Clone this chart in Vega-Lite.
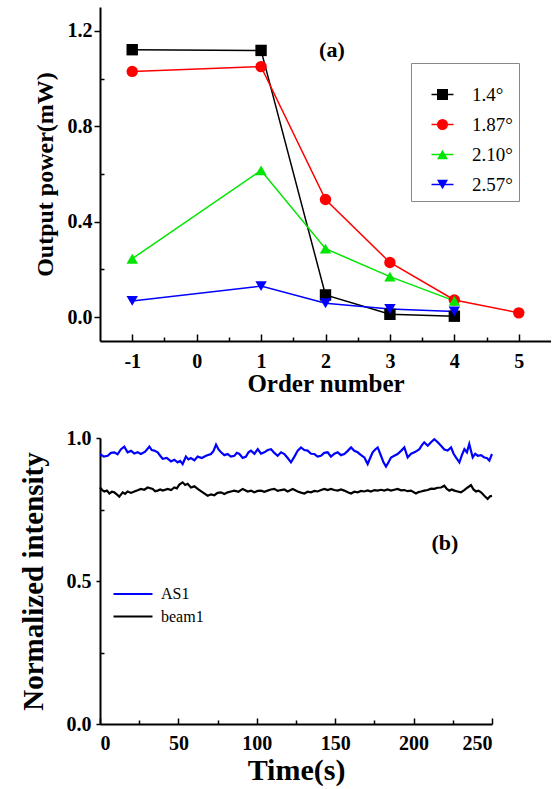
{
  "$schema": "https://vega.github.io/schema/vega-lite/v6.json",
  "padding": {"left": 18, "top": 7, "right": 0, "bottom": 5},
  "background": "white",
  "spacing": 97,
  "bounds": "flush",
  "config": {
    "view": {"stroke": null},
    "font": "Liberation Serif",
    "axis": {
      "grid": false,
      "domainColor": "#000",
      "domainWidth": 2,
      "tickColor": "#000",
      "tickWidth": 1.5,
      "labelFont": "Liberation Serif",
      "labelFontWeight": "bold",
      "labelFontSize": 20,
      "labelColor": "#000",
      "titleFont": "Liberation Serif",
      "titleFontWeight": "bold",
      "titleColor": "#000"
    }
  },
  "datasets": {
    "orders": [
      {"series": "1.4°", "order": -1, "power": 1.121},
      {"series": "1.4°", "order": 1, "power": 1.118},
      {"series": "1.4°", "order": 2, "power": 0.093},
      {"series": "1.4°", "order": 3, "power": 0.012},
      {"series": "1.4°", "order": 4, "power": 0.004},
      {"series": "1.87°", "order": -1, "power": 1.030},
      {"series": "1.87°", "order": 1, "power": 1.050},
      {"series": "1.87°", "order": 2, "power": 0.493},
      {"series": "1.87°", "order": 3, "power": 0.229},
      {"series": "1.87°", "order": 4, "power": 0.072},
      {"series": "1.87°", "order": 5, "power": 0.018},
      {"series": "2.10°", "order": -1, "power": 0.245},
      {"series": "2.10°", "order": 1, "power": 0.615},
      {"series": "2.10°", "order": 2, "power": 0.287},
      {"series": "2.10°", "order": 3, "power": 0.170},
      {"series": "2.10°", "order": 4, "power": 0.068},
      {"series": "2.57°", "order": -1, "power": 0.068},
      {"series": "2.57°", "order": 1, "power": 0.130},
      {"series": "2.57°", "order": 2, "power": 0.058},
      {"series": "2.57°", "order": 3, "power": 0.034},
      {"series": "2.57°", "order": 4, "power": 0.024}
    ],
    "labelA": [{"order": 2.1, "power": 1.12, "text": "(a)"}],
    "labelB": [{"time": 220, "intensity": 0.634, "text": "(b)"}],
    "intensity": [
      {"s": "AS1", "t": 0.0, "v": 0.944}, {"s": "AS1", "t": 2.4, "v": 0.935}, {"s": "AS1", "t": 4.9, "v": 0.938}, {"s": "AS1", "t": 7.0, "v": 0.948},
      {"s": "AS1", "t": 9.1, "v": 0.950}, {"s": "AS1", "t": 11.2, "v": 0.943}, {"s": "AS1", "t": 13.4, "v": 0.961}, {"s": "AS1", "t": 15.5, "v": 0.970},
      {"s": "AS1", "t": 17.6, "v": 0.950}, {"s": "AS1", "t": 19.8, "v": 0.955}, {"s": "AS1", "t": 21.9, "v": 0.946}, {"s": "AS1", "t": 24.0, "v": 0.950},
      {"s": "AS1", "t": 26.1, "v": 0.944}, {"s": "AS1", "t": 28.8, "v": 0.952}, {"s": "AS1", "t": 31.5, "v": 0.970}, {"s": "AS1", "t": 33.0, "v": 0.958},
      {"s": "AS1", "t": 34.6, "v": 0.956}, {"s": "AS1", "t": 36.8, "v": 0.950}, {"s": "AS1", "t": 38.4, "v": 0.938}, {"s": "AS1", "t": 40.0, "v": 0.927},
      {"s": "AS1", "t": 42.6, "v": 0.930}, {"s": "AS1", "t": 45.3, "v": 0.918}, {"s": "AS1", "t": 47.4, "v": 0.924}, {"s": "AS1", "t": 49.5, "v": 0.915},
      {"s": "AS1", "t": 51.1, "v": 0.920}, {"s": "AS1", "t": 52.7, "v": 0.909}, {"s": "AS1", "t": 54.8, "v": 0.935}, {"s": "AS1", "t": 56.4, "v": 0.925},
      {"s": "AS1", "t": 58.0, "v": 0.930}, {"s": "AS1", "t": 60.2, "v": 0.922}, {"s": "AS1", "t": 62.3, "v": 0.935}, {"s": "AS1", "t": 65.0, "v": 0.930},
      {"s": "AS1", "t": 67.6, "v": 0.938}, {"s": "AS1", "t": 70.8, "v": 0.944}, {"s": "AS1", "t": 72.4, "v": 0.955}, {"s": "AS1", "t": 74.0, "v": 0.977},
      {"s": "AS1", "t": 75.6, "v": 0.960}, {"s": "AS1", "t": 77.2, "v": 0.950}, {"s": "AS1", "t": 79.3, "v": 0.940}, {"s": "AS1", "t": 81.4, "v": 0.944},
      {"s": "AS1", "t": 83.5, "v": 0.935}, {"s": "AS1", "t": 85.7, "v": 0.938}, {"s": "AS1", "t": 87.3, "v": 0.948}, {"s": "AS1", "t": 88.9, "v": 0.944},
      {"s": "AS1", "t": 91.0, "v": 0.930}, {"s": "AS1", "t": 93.1, "v": 0.935}, {"s": "AS1", "t": 94.7, "v": 0.950}, {"s": "AS1", "t": 96.3, "v": 0.956},
      {"s": "AS1", "t": 98.5, "v": 0.945}, {"s": "AS1", "t": 100.6, "v": 0.961}, {"s": "AS1", "t": 102.7, "v": 0.945}, {"s": "AS1", "t": 104.8, "v": 0.950},
      {"s": "AS1", "t": 107.0, "v": 0.958}, {"s": "AS1", "t": 109.1, "v": 0.961}, {"s": "AS1", "t": 111.2, "v": 0.948}, {"s": "AS1", "t": 113.3, "v": 0.938},
      {"s": "AS1", "t": 115.5, "v": 0.950}, {"s": "AS1", "t": 117.6, "v": 0.944}, {"s": "AS1", "t": 119.7, "v": 0.930}, {"s": "AS1", "t": 121.8, "v": 0.915},
      {"s": "AS1", "t": 124.0, "v": 0.935}, {"s": "AS1", "t": 126.1, "v": 0.956}, {"s": "AS1", "t": 128.2, "v": 0.967}, {"s": "AS1", "t": 130.3, "v": 0.958},
      {"s": "AS1", "t": 132.4, "v": 0.956}, {"s": "AS1", "t": 134.6, "v": 0.945}, {"s": "AS1", "t": 136.7, "v": 0.944}, {"s": "AS1", "t": 138.8, "v": 0.935},
      {"s": "AS1", "t": 140.9, "v": 0.938}, {"s": "AS1", "t": 143.0, "v": 0.948}, {"s": "AS1", "t": 145.2, "v": 0.950}, {"s": "AS1", "t": 147.3, "v": 0.935},
      {"s": "AS1", "t": 149.5, "v": 0.945}, {"s": "AS1", "t": 151.6, "v": 0.950}, {"s": "AS1", "t": 153.7, "v": 0.940}, {"s": "AS1", "t": 155.8, "v": 0.944},
      {"s": "AS1", "t": 158.0, "v": 0.955}, {"s": "AS1", "t": 160.1, "v": 0.967}, {"s": "AS1", "t": 162.2, "v": 0.955}, {"s": "AS1", "t": 164.3, "v": 0.950},
      {"s": "AS1", "t": 166.5, "v": 0.940}, {"s": "AS1", "t": 168.6, "v": 0.932}, {"s": "AS1", "t": 170.7, "v": 0.909}, {"s": "AS1", "t": 172.3, "v": 0.930},
      {"s": "AS1", "t": 173.9, "v": 0.950}, {"s": "AS1", "t": 175.5, "v": 0.960}, {"s": "AS1", "t": 177.1, "v": 0.967}, {"s": "AS1", "t": 179.2, "v": 0.938},
      {"s": "AS1", "t": 180.8, "v": 0.915}, {"s": "AS1", "t": 182.4, "v": 0.900}, {"s": "AS1", "t": 184.0, "v": 0.915}, {"s": "AS1", "t": 185.6, "v": 0.932},
      {"s": "AS1", "t": 187.7, "v": 0.938}, {"s": "AS1", "t": 189.8, "v": 0.944}, {"s": "AS1", "t": 192.0, "v": 0.955}, {"s": "AS1", "t": 194.1, "v": 0.967},
      {"s": "AS1", "t": 196.2, "v": 0.932}, {"s": "AS1", "t": 198.4, "v": 0.945}, {"s": "AS1", "t": 200.5, "v": 0.950}, {"s": "AS1", "t": 202.1, "v": 0.955},
      {"s": "AS1", "t": 203.7, "v": 0.961}, {"s": "AS1", "t": 205.3, "v": 0.975}, {"s": "AS1", "t": 206.8, "v": 0.985}, {"s": "AS1", "t": 209.0, "v": 0.973},
      {"s": "AS1", "t": 211.1, "v": 0.985}, {"s": "AS1", "t": 213.2, "v": 0.996}, {"s": "AS1", "t": 215.4, "v": 0.985}, {"s": "AS1", "t": 217.5, "v": 0.973},
      {"s": "AS1", "t": 219.6, "v": 0.960}, {"s": "AS1", "t": 221.7, "v": 0.956}, {"s": "AS1", "t": 223.9, "v": 0.967}, {"s": "AS1", "t": 225.5, "v": 0.945},
      {"s": "AS1", "t": 227.0, "v": 0.932}, {"s": "AS1", "t": 229.2, "v": 0.915}, {"s": "AS1", "t": 230.8, "v": 0.940}, {"s": "AS1", "t": 232.4, "v": 0.961},
      {"s": "AS1", "t": 234.0, "v": 0.950}, {"s": "AS1", "t": 235.5, "v": 0.979}, {"s": "AS1", "t": 237.7, "v": 0.932}, {"s": "AS1", "t": 239.3, "v": 0.945},
      {"s": "AS1", "t": 240.9, "v": 0.938}, {"s": "AS1", "t": 243.0, "v": 0.940}, {"s": "AS1", "t": 245.1, "v": 0.932}, {"s": "AS1", "t": 246.7, "v": 0.930},
      {"s": "AS1", "t": 248.3, "v": 0.921}, {"s": "AS1", "t": 250.0, "v": 0.944},
      {"s": "beam1", "t": 0.0, "v": 0.827}, {"s": "beam1", "t": 1.4, "v": 0.818}, {"s": "beam1", "t": 2.8, "v": 0.813}, {"s": "beam1", "t": 4.4, "v": 0.816},
      {"s": "beam1", "t": 6.0, "v": 0.806}, {"s": "beam1", "t": 7.6, "v": 0.812}, {"s": "beam1", "t": 9.1, "v": 0.810}, {"s": "beam1", "t": 10.7, "v": 0.803},
      {"s": "beam1", "t": 12.3, "v": 0.795}, {"s": "beam1", "t": 14.5, "v": 0.810}, {"s": "beam1", "t": 16.0, "v": 0.805}, {"s": "beam1", "t": 17.6, "v": 0.813},
      {"s": "beam1", "t": 19.8, "v": 0.808}, {"s": "beam1", "t": 21.9, "v": 0.813}, {"s": "beam1", "t": 24.0, "v": 0.817}, {"s": "beam1", "t": 26.1, "v": 0.822},
      {"s": "beam1", "t": 28.2, "v": 0.819}, {"s": "beam1", "t": 30.4, "v": 0.827}, {"s": "beam1", "t": 33.6, "v": 0.822}, {"s": "beam1", "t": 35.2, "v": 0.814},
      {"s": "beam1", "t": 36.8, "v": 0.816}, {"s": "beam1", "t": 38.4, "v": 0.820}, {"s": "beam1", "t": 40.0, "v": 0.816}, {"s": "beam1", "t": 43.2, "v": 0.822},
      {"s": "beam1", "t": 45.3, "v": 0.818}, {"s": "beam1", "t": 47.4, "v": 0.827}, {"s": "beam1", "t": 49.0, "v": 0.824}, {"s": "beam1", "t": 50.6, "v": 0.837},
      {"s": "beam1", "t": 52.7, "v": 0.845}, {"s": "beam1", "t": 54.3, "v": 0.836}, {"s": "beam1", "t": 55.9, "v": 0.840}, {"s": "beam1", "t": 58.0, "v": 0.827},
      {"s": "beam1", "t": 60.2, "v": 0.831}, {"s": "beam1", "t": 62.3, "v": 0.822}, {"s": "beam1", "t": 65.5, "v": 0.810}, {"s": "beam1", "t": 68.7, "v": 0.798},
      {"s": "beam1", "t": 70.8, "v": 0.803}, {"s": "beam1", "t": 72.9, "v": 0.800}, {"s": "beam1", "t": 75.0, "v": 0.808}, {"s": "beam1", "t": 77.2, "v": 0.810},
      {"s": "beam1", "t": 79.3, "v": 0.804}, {"s": "beam1", "t": 81.4, "v": 0.810}, {"s": "beam1", "t": 83.5, "v": 0.813}, {"s": "beam1", "t": 85.7, "v": 0.816},
      {"s": "beam1", "t": 88.3, "v": 0.812}, {"s": "beam1", "t": 91.0, "v": 0.822}, {"s": "beam1", "t": 94.2, "v": 0.813}, {"s": "beam1", "t": 96.3, "v": 0.816},
      {"s": "beam1", "t": 98.4, "v": 0.810}, {"s": "beam1", "t": 100.5, "v": 0.815}, {"s": "beam1", "t": 102.7, "v": 0.816}, {"s": "beam1", "t": 104.8, "v": 0.812},
      {"s": "beam1", "t": 106.9, "v": 0.816}, {"s": "beam1", "t": 109.0, "v": 0.820}, {"s": "beam1", "t": 111.2, "v": 0.822}, {"s": "beam1", "t": 113.3, "v": 0.815},
      {"s": "beam1", "t": 115.4, "v": 0.818}, {"s": "beam1", "t": 117.5, "v": 0.820}, {"s": "beam1", "t": 119.7, "v": 0.813}, {"s": "beam1", "t": 122.9, "v": 0.822},
      {"s": "beam1", "t": 126.1, "v": 0.813}, {"s": "beam1", "t": 128.2, "v": 0.809}, {"s": "beam1", "t": 130.3, "v": 0.806}, {"s": "beam1", "t": 132.4, "v": 0.812},
      {"s": "beam1", "t": 134.6, "v": 0.810}, {"s": "beam1", "t": 136.7, "v": 0.815}, {"s": "beam1", "t": 138.8, "v": 0.813}, {"s": "beam1", "t": 141.0, "v": 0.818},
      {"s": "beam1", "t": 143.1, "v": 0.822}, {"s": "beam1", "t": 145.2, "v": 0.818}, {"s": "beam1", "t": 147.3, "v": 0.822}, {"s": "beam1", "t": 149.4, "v": 0.818},
      {"s": "beam1", "t": 151.6, "v": 0.816}, {"s": "beam1", "t": 153.7, "v": 0.820}, {"s": "beam1", "t": 155.8, "v": 0.816}, {"s": "beam1", "t": 158.0, "v": 0.810},
      {"s": "beam1", "t": 160.1, "v": 0.806}, {"s": "beam1", "t": 162.2, "v": 0.812}, {"s": "beam1", "t": 164.3, "v": 0.810}, {"s": "beam1", "t": 166.5, "v": 0.815},
      {"s": "beam1", "t": 168.6, "v": 0.813}, {"s": "beam1", "t": 170.7, "v": 0.817}, {"s": "beam1", "t": 172.8, "v": 0.813}, {"s": "beam1", "t": 175.0, "v": 0.818},
      {"s": "beam1", "t": 177.1, "v": 0.816}, {"s": "beam1", "t": 179.2, "v": 0.819}, {"s": "beam1", "t": 181.3, "v": 0.816}, {"s": "beam1", "t": 183.4, "v": 0.820},
      {"s": "beam1", "t": 185.6, "v": 0.816}, {"s": "beam1", "t": 187.7, "v": 0.819}, {"s": "beam1", "t": 189.8, "v": 0.822}, {"s": "beam1", "t": 192.0, "v": 0.817},
      {"s": "beam1", "t": 194.1, "v": 0.818}, {"s": "beam1", "t": 196.2, "v": 0.814}, {"s": "beam1", "t": 198.3, "v": 0.816}, {"s": "beam1", "t": 201.5, "v": 0.806},
      {"s": "beam1", "t": 203.1, "v": 0.811}, {"s": "beam1", "t": 204.7, "v": 0.813}, {"s": "beam1", "t": 206.8, "v": 0.816}, {"s": "beam1", "t": 209.0, "v": 0.818},
      {"s": "beam1", "t": 211.1, "v": 0.823}, {"s": "beam1", "t": 213.2, "v": 0.822}, {"s": "beam1", "t": 215.3, "v": 0.826}, {"s": "beam1", "t": 217.5, "v": 0.827},
      {"s": "beam1", "t": 219.6, "v": 0.833}, {"s": "beam1", "t": 221.2, "v": 0.822}, {"s": "beam1", "t": 222.8, "v": 0.816}, {"s": "beam1", "t": 224.4, "v": 0.820},
      {"s": "beam1", "t": 226.0, "v": 0.816}, {"s": "beam1", "t": 228.1, "v": 0.813}, {"s": "beam1", "t": 230.2, "v": 0.810}, {"s": "beam1", "t": 232.3, "v": 0.818},
      {"s": "beam1", "t": 234.5, "v": 0.827}, {"s": "beam1", "t": 236.6, "v": 0.835}, {"s": "beam1", "t": 238.2, "v": 0.820}, {"s": "beam1", "t": 239.8, "v": 0.813},
      {"s": "beam1", "t": 241.4, "v": 0.816}, {"s": "beam1", "t": 243.0, "v": 0.810}, {"s": "beam1", "t": 245.1, "v": 0.798}, {"s": "beam1", "t": 247.2, "v": 0.787},
      {"s": "beam1", "t": 248.8, "v": 0.796}, {"s": "beam1", "t": 250.0, "v": 0.798}
    ]
  },
  "vconcat": [
    {
      "width": 451,
      "height": 334,
      "resolve": {"axis": {"x": "independent", "y": "independent"}},
      "layer": [
        {
          "data": {"name": "orders"},
          "mark": {"type": "line", "strokeWidth": 1.5},
          "encoding": {
            "x": {
              "field": "order", "type": "quantitative",
              "scale": {"domain": [-1.5, 5.5], "nice": false, "zero": false},
              "axis": {
                "values": [-1, 0, 1, 2, 3, 4, 5],
                "labelExpr": "datum.value < 0 ? '-' + format(-datum.value, 'd') : format(datum.value, 'd')",
                "tickSize": -7, "labelPadding": 17,
                "title": "Order number", "titleFontSize": 25, "titlePadding": 0
              }
            },
            "y": {
              "field": "power", "type": "quantitative",
              "scale": {"domain": [-0.1, 1.3], "nice": false, "zero": false},
              "axis": {
                "values": [0, 0.4, 0.8, 1.2], "format": ".1f",
                "tickSize": 6, "labelPadding": 2,
                "title": "Output power(mW)", "titleFontSize": 24, "titlePadding": 10
              }
            },
            "stroke": {
              "field": "series", "type": "nominal",
              "scale": {"range": ["#000000", "#ff0000", "#00e600", "#0000ff"]},
              "legend": {
                "orient": "none", "legendX": 311, "legendY": 56,
                "title": " ", "titleFontSize": 12, "titlePadding": 4,
                "padding": 6, "strokeColor": null, "fillColor": null,
                "labelFont": "Liberation Serif", "labelFontSize": 19, "labelOpacity": 0,
                "symbolType": "M-2,0H2", "symbolSize": 121, "symbolStrokeWidth": 1.5,
                "symbolOffset": 16, "labelOffset": 20, "rowPadding": 10
              }
            }
          }
        },
        {
          "data": {"name": "orders"},
          "mark": {"type": "point", "filled": true, "opacity": 1, "size": 130},
          "encoding": {
            "x": {
              "field": "order", "type": "quantitative",
              "axis": {
                "values": [-0.5, 0.5, 1.5, 2.5, 3.5, 4.5], "labels": false, "domain": false,
                "tickSize": -4, "title": null, "orient": "bottom"
              }
            },
            "y": {
              "field": "power", "type": "quantitative",
              "axis": {
                "values": [0.2, 0.6, 1.0], "labels": false, "domain": false,
                "tickSize": -4, "title": null, "orient": "left"
              }
            },
            "color": {
              "field": "series", "type": "nominal",
              "scale": {"domain": ["1.4°", "1.87°", "2.10°", "2.57°"], "range": ["#000000", "#ff0000", "#00e600", "#0000ff"]},
              "legend": {
                "orient": "none", "legendX": 311, "legendY": 56,
                "title": " ", "titleFontSize": 12, "titlePadding": 4,
                "strokeColor": "#888", "fillColor": null, "padding": 6,
                "labelFont": "Liberation Serif", "labelFontSize": 19, "labelColor": "#000",
                "symbolOffset": 16, "labelOffset": 20, "rowPadding": 10,
                "symbolSize": 121, "symbolStrokeWidth": 0
              }
            },
            "shape": {
              "field": "series", "type": "nominal",
              "scale": {"domain": ["1.4°", "1.87°", "2.10°", "2.57°"], "range": ["square", "circle", "triangle-up", "triangle-down"]},
              "legend": {
                "orient": "none", "legendX": 311, "legendY": 56,
                "title": " ", "titleFontSize": 12, "titlePadding": 4,
                "strokeColor": "#888", "fillColor": null, "padding": 6,
                "labelFont": "Liberation Serif", "labelFontSize": 19, "labelColor": "#000",
                "symbolOffset": 16, "labelOffset": 20, "rowPadding": 10,
                "symbolSize": 121, "symbolStrokeWidth": 0
              }
            }
          }
        },
        {
          "data": {"name": "labelA"},
          "mark": {"type": "text", "font": "Liberation Serif", "fontWeight": "bold", "fontSize": 22, "color": "#000"},
          "encoding": {
            "x": {"field": "order", "type": "quantitative", "axis": null},
            "y": {"field": "power", "type": "quantitative", "axis": null},
            "text": {"field": "text"}
          }
        }
      ]
    },
    {
      "width": 392,
      "height": 286,
      "resolve": {"axis": {"x": "independent", "y": "independent"}},
      "layer": [
        {
          "data": {"name": "intensity"},
          "mark": {"type": "line", "strokeWidth": 2.2},
          "encoding": {
            "x": {
              "field": "t", "type": "quantitative",
              "scale": {"domain": [0, 250], "nice": false},
              "axis": {
                "values": [0, 50, 100, 150, 200, 250], "format": "d",
                "tickSize": -6, "labelPadding": 15,
                "title": "Time(s)", "titleFontSize": 30, "titlePadding": 2
              }
            },
            "y": {
              "field": "v", "type": "quantitative",
              "scale": {"domain": [0, 1], "nice": false},
              "axis": {
                "values": [0, 0.5, 1], "format": ".1f",
                "tickSize": 4, "labelPadding": 5,
                "title": "Normalized intensity", "titleFontSize": 29, "titlePadding": 18
              }
            },
            "color": {
              "field": "s", "type": "nominal",
              "scale": {"domain": ["AS1", "beam1"], "range": ["#0000ff", "#000000"]},
              "legend": {
                "orient": "none", "legendX": 10, "legendY": 145,
                "title": null, "padding": 0,
                "labelFont": "Liberation Serif", "labelFontSize": 16, "labelColor": "#000",
                "symbolType": "M-2,0H2", "symbolSize": 380, "symbolStrokeWidth": 2,
                "symbolOffset": 12, "labelOffset": 17, "rowPadding": 3.5
              }
            }
          }
        },
        {
          "data": {"name": "labelB"},
          "mark": {"type": "text", "font": "Liberation Serif", "fontWeight": "bold", "fontSize": 22, "color": "#000"},
          "encoding": {
            "x": {
              "field": "time", "type": "quantitative",
              "axis": {
                "values": [25, 75, 125, 175, 225], "labels": false, "domain": false,
                "tickSize": -4, "title": null, "orient": "bottom"
              }
            },
            "y": {
              "field": "intensity", "type": "quantitative",
              "axis": {
                "values": [0.25, 0.75], "labels": false, "domain": false,
                "tickSize": -4, "title": null, "orient": "left"
              }
            },
            "text": {"field": "text"}
          }
        }
      ]
    }
  ],
  "resolve": {"scale": {"color": "independent", "shape": "independent", "stroke": "independent"}}
}
